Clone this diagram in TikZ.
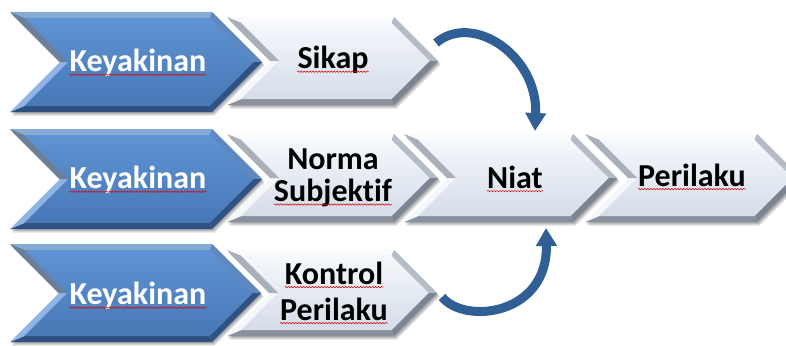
\documentclass[tikz,border=0pt]{standalone}
\usepackage{fontspec}
\setmainfont{Carlito}[Ligatures=NoCommon]
\usetikzlibrary{arrows.meta,decorations.pathmorphing}

% palettes: bevel facets and face shading
\definecolor{arrowblue}{HTML}{2F5F95}
\tikzset{
  bluetop/.style={fill={rgb,255:red,134;green,169;blue,214}},
  blueur/.style={fill={rgb,255:red,94;green,136;blue,191}},
  bluelr/.style={fill={rgb,255:red,45;green,82;blue,131}},
  bluebot/.style={fill={rgb,255:red,46;green,81;blue,129}},
  bluell/.style={fill={rgb,255:red,143;green,181;blue,230}},
  blueul/.style={fill={rgb,255:red,106;green,127;blue,153}},
  blueface/.style={top color={rgb,255:red,95;green,147;blue,211},
                   bottom color={rgb,255:red,72;green,120;blue,182}},
  lighttop/.style={fill={rgb,255:red,250;green,251;blue,253}},
  lightur/.style={fill={rgb,255:red,181;green,188;blue,199}},
  lightlr/.style={fill={rgb,255:red,125;green,133;blue,148}},
  lightbot/.style={fill={rgb,255:red,138;green,145;blue,158}},
  lightll/.style={fill={rgb,255:red,244;green,247;blue,251}},
  lightul/.style={fill={rgb,255:red,169;green,176;blue,187}},
  lightface/.style={top color={rgb,255:red,245;green,248;blue,252},
                    middle color={rgb,255:red,228;green,234;blue,243},
                    bottom color={rgb,255:red,213;green,221;blue,233}},
  chevshadow/.style={fill=black, opacity=.13},
  keyword/.style={inner sep=0pt, text=white, font=\bfseries\fontsize{32}{34}\selectfont},
  stage/.style={inner sep=0pt, text=black, font=\bfseries\fontsize{32}{34}\selectfont},
  spell/.style={draw=red!85!black, line width=.5pt, decorate,
                decoration={snake, segment length=3pt, amplitude=.7pt}},
  flowarrow/.style={draw=arrowblue, line width=9pt,
                    -{Triangle[width=20pt,length=18pt]}}
}

% bevelled chevron: left x, top-right x, centre y, half height, palette
\newcommand{\drawchevron}[5]{%
  \pgfmathsetmacro\cvL{#1}\pgfmathsetmacro\cvR{#2}%
  \pgfmathsetmacro\cvC{#3}\pgfmathsetmacro\cvH{#4}%
  \pgfmathsetmacro\cvb{6}%
  \pgfmathsetmacro\cvT{\cvC-\cvH}\pgfmathsetmacro\cvB{\cvC+\cvH}%
  \pgfmathsetmacro\cvP{\cvR+\cvH}\pgfmathsetmacro\cvN{\cvL+\cvH}%
  \pgfmathsetmacro\cviT{\cvT+\cvb}\pgfmathsetmacro\cviB{\cvB-\cvb}%
  \pgfmathsetmacro\cviL{\cvL+2.414*\cvb}\pgfmathsetmacro\cviN{\cvN+1.414*\cvb}%
  \pgfmathsetmacro\cviR{\cvR-0.414*\cvb}\pgfmathsetmacro\cviP{\cvP-1.414*\cvb}%
  \foreach \s in {1,2,3}{
    \fill[chevshadow, shift={(\s*0.8,\s*1.2)}]
      (\cvL,\cvT) -- (\cvR,\cvT) -- (\cvP,\cvC) -- (\cvR,\cvB) -- (\cvL,\cvB) -- (\cvN,\cvC) -- cycle;
  }
  \fill[#5top] (\cvL,\cvT) -- (\cvR,\cvT) -- (\cviR,\cviT) -- (\cviL,\cviT) -- cycle;
  \fill[#5ur] (\cvR,\cvT) -- (\cvP,\cvC) -- (\cviP,\cvC) -- (\cviR,\cviT) -- cycle;
  \fill[#5lr] (\cvP,\cvC) -- (\cvR,\cvB) -- (\cviR,\cviB) -- (\cviP,\cvC) -- cycle;
  \fill[#5bot] (\cvR,\cvB) -- (\cvL,\cvB) -- (\cviL,\cviB) -- (\cviR,\cviB) -- cycle;
  \fill[#5ll] (\cvL,\cvB) -- (\cvN,\cvC) -- (\cviN,\cvC) -- (\cviL,\cviB) -- cycle;
  \fill[#5ul] (\cvN,\cvC) -- (\cvL,\cvT) -- (\cviL,\cviT) -- (\cviN,\cvC) -- cycle;
  \shade[#5face] (\cviL,\cviT) -- (\cviR,\cviT) -- (\cviP,\cvC) -- (\cviR,\cviB)
    -- (\cviL,\cviB) -- (\cviN,\cvC) -- cycle;
}

% red wavy mark under a word
\newcommand{\spellmark}[1]{%
  \draw[spell] ([yshift=-3pt]#1.base west) -- ([yshift=-3pt]#1.base east);}

\begin{document}
\begin{tikzpicture}[x=1pt, y=-1pt]
  \useasboundingbox (0,0) rectangle (786,345);
  \fill[white] (0,0) rectangle (786,345);
  \clip (0,0) rectangle (786,345);

  % belief chevrons
  \drawchevron{10}{212}{62}{50}{blue}
  \drawchevron{10}{212}{179}{50}{blue}
  \drawchevron{10}{212}{293}{49}{blue}

  % attitude, norm, control, intention, behaviour
  \drawchevron{227}{394}{61}{44}{light}
  \drawchevron{227}{394}{178}{44}{light}
  \drawchevron{227}{394}{293}{43}{light}
  \drawchevron{404}{573}{178}{44}{light}
  \drawchevron{585}{757}{178}{44}{light}

  % labels
  \node[keyword] (k1) at (138,63) {Keyakinan};
  \node[keyword] (k2) at (138,180) {Keyakinan};
  \node[keyword] (k3) at (138,296) {Keyakinan};
  \node[stage] (sikap) at (333,60) {Sikap};
  \node[stage] (norma) at (333,159) {Norma};
  \node[stage] (subj) at (333,193) {Subjektif};
  \node[stage] (kontrol) at (334,273) {Kontrol};
  \node[stage] (kperilaku) at (334,309) {Perilaku};
  \node[stage] (niat) at (515,177) {Niat};
  \node[stage] (perilaku) at (692,175) {Perilaku};

  \foreach \w in {k1,k2,k3,sikap,subj,kontrol,kperilaku,niat,perilaku}{
    \spellmark{\w}
  }

  % curved connectors into the intention stage
  \coordinate (sikap tail) at (436,43);
  \coordinate (niat top) at (535,131);
  \coordinate (kontrol tail) at (442,297);
  \coordinate (niat bottom) at (546,228);
  \draw[flowarrow] (sikap tail) .. controls +(36,-31) and +(3,-76) .. (niat top);
  \draw[flowarrow] (kontrol tail) .. controls +(23,28) and +(2,87) .. (niat bottom);
\end{tikzpicture}
\end{document}
